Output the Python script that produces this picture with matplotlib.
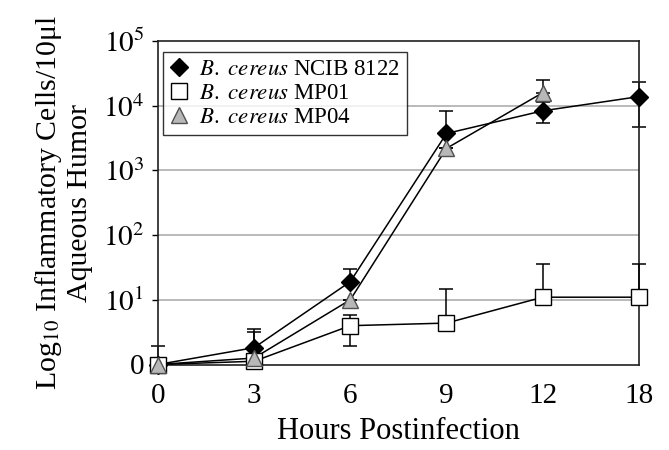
import matplotlib
matplotlib.use('Agg')
import matplotlib.pyplot as plt
import numpy as np

plt.rcParams['font.family'] = ['Liberation Serif', 'DejaVu Serif']
plt.rcParams['mathtext.fontset'] = 'stix'

# x categories (hours postinfection), plotted evenly spaced
hours = ['0', '3', '6', '9', '12', '18']

# log10 values
ncib = [0.0, 0.26, 1.28, 3.57, 3.92, 4.14]
ncib_up = [0.29, 0.29, 0.20, 0.34, 0.13, 0.23]
ncib_lo = [0.0, 0.0, 0.0, 0.0, 0.19, 0.47]

mp01 = [0.0, 0.05, 0.60, 0.64, 1.04, 1.04]
mp01_up = [0.0, 0.0, 0.17, 0.52, 0.52, 0.52]
mp01_lo = [0.0, 0.0, 0.31, 0.0, 0.0, 0.0]

mp04 = [0.0, 0.10, 1.00, 3.34, 4.20, np.nan]
mp04_up = [0.0, 0.40, 0.0, 0.0, 0.20, np.nan]
mp04_lo = [0.0, 0.0, 0.0, 0.0, 0.0, np.nan]

ytick_vals = [0, 1, 2, 3, 4, 5]
ytick_labels = ['0', '$10^1$', '$10^2$', '$10^3$', '$10^4$', '$10^5$']

fig = plt.figure(figsize=(6.69, 4.5), dpi=100)
ax = fig.add_axes([0.236, 0.19, 0.719, 0.719])

x = np.arange(len(hours))

for yv in ytick_vals[1:5]:
    ax.axhline(yv, color='#b4b4b4', linewidth=1.3, zorder=0)

series = [
    (ncib, ncib_lo, ncib_up, 'D', 'black', 'black', 9, r'$\it{B.\ cereus}$ NCIB 8122'),
    (mp01, mp01_lo, mp01_up, 's', 'white', 'black', 11.5, r'$\it{B.\ cereus}$ MP01'),
    (mp04, mp04_lo, mp04_up, '^', '#b8b8b8', '#505050', 12, r'$\it{B.\ cereus}$ MP04'),
]
for i, (vals, lo, up, mk, fc, ec, ms, lab) in enumerate(series):
    vals = np.array(vals)
    err = np.array([lo, up])
    ax.errorbar(x, vals, yerr=err, fmt='none', ecolor='black', elinewidth=1.1,
                capsize=5, capthick=1.1, zorder=2 + i, clip_on=False)
    ax.plot(x, vals, color='black', linewidth=1.1, zorder=2 + i, clip_on=False)
    ax.plot(x, vals, linestyle='none', marker=mk, markersize=ms,
            markerfacecolor=fc, markeredgecolor=ec, markeredgewidth=1.0,
            zorder=5 + i, clip_on=False, label=lab)

ax.set_xlim(0, len(hours) - 1)
ax.set_ylim(0, 5)
ax.set_xticks(x)
ax.set_xticklabels(hours)
ax.set_yticks(ytick_vals)
ax.set_yticklabels(ytick_labels)
ax.tick_params(axis='x', length=0, pad=13, labelsize=21)
ax.tick_params(axis='y', length=4, width=1.0, direction='out', pad=6, labelsize=21)
for sp in ax.spines.values():
    sp.set_linewidth(1.2)
    sp.set_color('#202020')

ax.set_xlabel('Hours Postinfection', fontsize=22, labelpad=6)
ax.set_ylabel('Log$_{10}$ Inflammatory Cells/10μl\nAqueous Humor', fontsize=21.5,
              linespacing=1.15, labelpad=7)

leg = ax.legend(loc='upper left', bbox_to_anchor=(0.01, 0.965), fontsize=16.5,
                frameon=True, fancybox=False, handlelength=0.8, handletextpad=0.5,
                borderpad=0.3, labelspacing=0.12, borderaxespad=0)
leg.get_frame().set_edgecolor('black')
leg.get_frame().set_linewidth(1.0)

fig.savefig('out.png', dpi=100)
